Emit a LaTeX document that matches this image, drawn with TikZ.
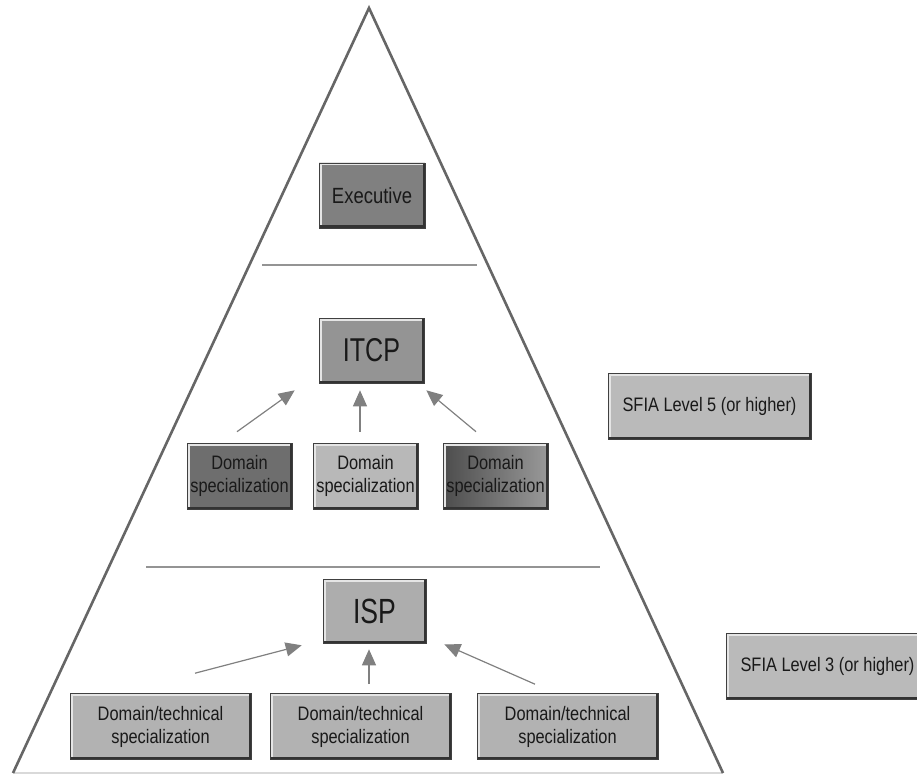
\documentclass[tikz,border=0pt]{standalone}
\usepackage{fontspec}
\setmainfont{Liberation Sans}[FakeStretch=0.84]
\newfontfamily\tallfont{Liberation Sans}[FakeStretch=0.76]
\usetikzlibrary{arrows.meta}

\definecolor{edgegray}{gray}{0.40}
\definecolor{rulegray}{gray}{0.58}
\definecolor{basegray}{gray}{0.85}
\definecolor{arrowgray}{gray}{0.50}
\definecolor{textgray}{gray}{0.10}
\definecolor{execfill}{gray}{0.50}
\definecolor{itcpfill}{gray}{0.58}
\definecolor{darkfill}{gray}{0.43}
\definecolor{lightfill}{gray}{0.72}
\definecolor{shadeleft}{gray}{0.30}
\definecolor{shaderight}{gray}{0.60}
\definecolor{ispfill}{gray}{0.68}
\definecolor{techfill}{gray}{0.70}
\definecolor{sfiafill}{gray}{0.73}

\begin{document}
\begin{tikzpicture}[x=1pt, y=-1pt,
    every node/.style={text=textgray},
    bevelbox/.style={draw=black!75, line width=0.6pt, inner sep=0pt, align=center,
        minimum width=105pt, minimum height=66pt, font=\fontsize{19.5}{23}\selectfont,
        path picture={
            \draw[white!80!gray, line width=5pt] (path picture bounding box.south west)
                -- (path picture bounding box.north west) -- (path picture bounding box.north east);
            \draw[black!80, line width=5pt] (path picture bounding box.north east)
                -- (path picture bounding box.south east) -- (path picture bounding box.south west);
        }},
    techbox/.style={bevelbox, fill=techfill, minimum width=181pt},
    sfiabox/.style={bevelbox, fill=sfiafill, minimum width=203pt},
    uparrow/.style={draw=arrowgray, line width=1.2pt, -{Triangle[length=16pt, width=14pt, fill=arrowgray]}}]

    \useasboundingbox (0,0) rectangle (917,775);

    % pyramid
    \coordinate (apex) at (369,8);
    \coordinate (baseL) at (13,773);
    \coordinate (baseR) at (723,773);
    \draw[basegray, line width=1.2pt] (baseL) -- (baseR);
    \draw[edgegray, line width=2.6pt, line join=miter] (baseL) -- (apex) -- (baseR);

    \coordinate (rule1L) at (262,265);
    \coordinate (rule1R) at (477,265);
    \coordinate (rule2L) at (146,567);
    \coordinate (rule2R) at (600,567);
    \draw[rulegray, line width=1.3pt] (rule1L) -- (rule1R);
    \draw[rulegray, line width=1.3pt] (rule2L) -- (rule2R);

    % top level
    \node[bevelbox, fill=execfill, minimum width=106pt, minimum height=65pt, font=\fontsize{22}{26}\selectfont] (exec) at (372,195.5) {Executive};

    % ITCP level
    \node[bevelbox, fill=itcpfill, minimum height=65pt, font=\tallfont\fontsize{33}{37}\selectfont] (itcp) at (371.5,350.5) {ITCP};
    \node[bevelbox, fill=darkfill] (dom1) at (239.5,476) {Domain\\specialization};
    \node[bevelbox, fill=lightfill] (dom2) at (365.5,476) {Domain\\specialization};
    \node[bevelbox, left color=shadeleft, right color=shaderight] (dom3) at (495.5,476) {Domain\\specialization};

    \draw[uparrow] ([xshift=-2.5pt, yshift=11pt]dom1.north) -- ([xshift=-24pt, yshift=-7pt]itcp.south west);
    \draw[uparrow] ([xshift=-5.5pt, yshift=11pt]dom2.north) -- ([xshift=-11.5pt, yshift=-7pt]itcp.south);
    \draw[uparrow] ([xshift=-19.5pt, yshift=11pt]dom3.north) -- ([xshift=2pt, yshift=-7pt]itcp.south east);

    \node[sfiabox] (sfia5) at (709.5,406.5) {SFIA Level 5 (or higher)};

    % ISP level
    \node[bevelbox, fill=ispfill, minimum width=103pt, minimum height=64pt, font=\tallfont\fontsize{35}{39}\selectfont] (isp) at (374.5,611) {ISP};
    \node[techbox] (tech1) at (160.5,726.5) {Domain/technical\\specialization};
    \node[techbox] (tech2) at (360.5,726.5) {Domain/technical\\specialization};
    \node[techbox] (tech3) at (567.5,726.5) {Domain/technical\\specialization};

    \draw[uparrow] ([xshift=34.5pt, yshift=20pt]tech1.north) -- ([xshift=-21pt, yshift=-2pt]isp.south west);
    \draw[uparrow] ([xshift=8.5pt, yshift=9pt]tech2.north) -- ([xshift=-5.5pt, yshift=-6pt]isp.south);
    \draw[uparrow] ([xshift=-32.5pt, yshift=9pt]tech3.north) -- ([xshift=18pt, yshift=-1pt]isp.south east);

    \node[sfiabox] (sfia3) at (827.5,666) {SFIA Level 3 (or higher)};
\end{tikzpicture}
\end{document}
